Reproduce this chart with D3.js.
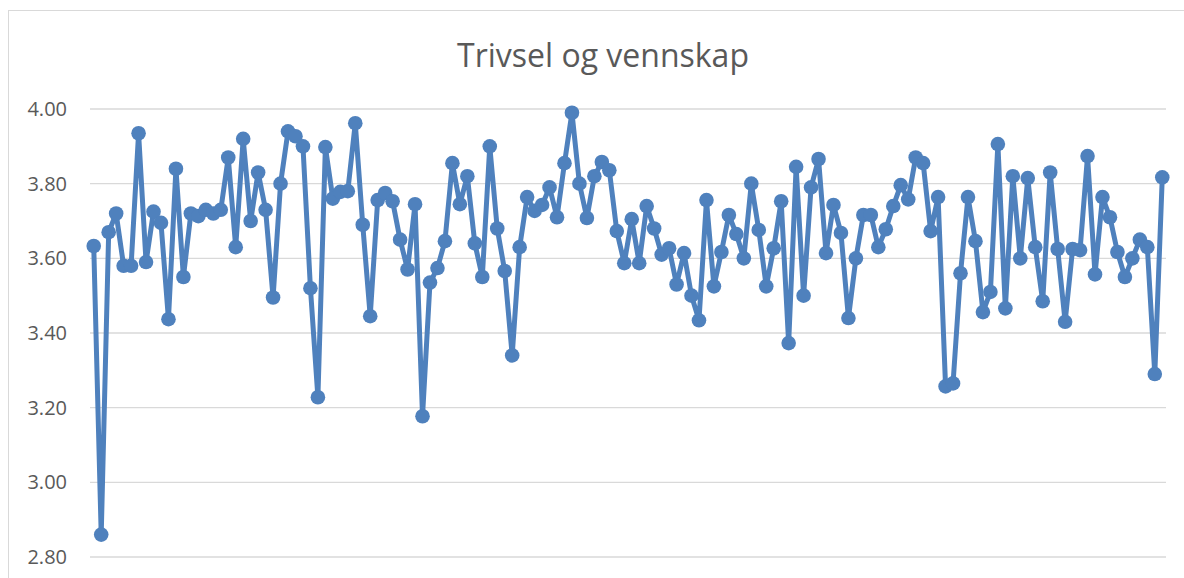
<!DOCTYPE html>
<html>
<head>
<meta charset="utf-8">
<script src="https://cdn.jsdelivr.net/npm/d3@7"></script>
<style>
  body { margin: 0; background: #fff; }
  svg { display: block; }
</style>
</head>
<body>
<div id="chart"></div>
<script>
// chart title and y ticks
var title = "Trivsel og vennskap"
var yTicks = [2.8, 3.0, 3.2, 3.4, 3.6, 3.8, 4.0]

// one value per respondent group
var values = [
    3.633, 2.86, 3.67, 3.72, 3.58, 3.58, 3.935, 3.59, 3.725, 3.695,
    3.437, 3.84, 3.55, 3.72, 3.713, 3.73, 3.72, 3.73, 3.87, 3.63,
    3.92, 3.70, 3.83, 3.73, 3.495, 3.80, 3.94, 3.927, 3.90, 3.52,
    3.228, 3.898, 3.76, 3.778, 3.78, 3.962, 3.69, 3.445, 3.756, 3.775,
    3.753, 3.65, 3.57, 3.745, 3.177, 3.535, 3.574, 3.646, 3.855, 3.745,
    3.82, 3.64, 3.55, 3.90, 3.68, 3.566, 3.34, 3.63, 3.764, 3.727,
    3.743, 3.79, 3.71, 3.855, 3.99, 3.80, 3.708, 3.82, 3.858, 3.836,
    3.673, 3.587, 3.705, 3.587, 3.74, 3.68, 3.61, 3.627, 3.53, 3.614,
    3.50, 3.434, 3.756, 3.525, 3.617, 3.716, 3.665, 3.60, 3.80, 3.676,
    3.525, 3.627, 3.753, 3.373, 3.845, 3.50, 3.79, 3.866, 3.614, 3.743,
    3.668, 3.44, 3.60, 3.716, 3.716, 3.63, 3.678, 3.74, 3.796, 3.758,
    3.87, 3.855, 3.673, 3.764, 3.257, 3.265, 3.56, 3.764, 3.646, 3.456,
    3.51, 3.906, 3.466, 3.82, 3.60, 3.815, 3.63, 3.485, 3.83, 3.625,
    3.43, 3.625, 3.622, 3.874, 3.557, 3.764, 3.71, 3.617, 3.55, 3.60,
    3.65, 3.63, 3.29, 3.817
]
var categories = values.map(function (d, i) { return i + 1 })

var W = 1184, H = 578
var plot = {left: 90, right: 1166, top: 109, bottom: 557}

var svg = d3.select("#chart").append("svg")
    .attr("width", W)
    .attr("height", H)

// chart frame
svg.append("rect")
    .attr("x", 8.5).attr("y", 10.5)
    .attr("width", W).attr("height", H)
    .attr("fill", "#fff")
    .attr("stroke", "#d9d9d9")

var x = d3.scaleBand()
    .domain(categories)
    .range([plot.left, plot.right])

var y = d3.scaleLinear()
    .domain([2.8, 4.0])
    .range([plot.bottom, plot.top])

// gridlines
svg.append("g")
    .selectAll("line")
    .data(yTicks)
    .enter().append("line")
    .attr("x1", plot.left)
    .attr("x2", plot.right)
    .attr("y1", function (d) { return y(d) })
    .attr("y2", function (d) { return y(d) })
    .attr("stroke", "#d9d9d9")
    .attr("stroke-width", 1.3)

// y axis labels
var yAxis = svg.append("g")
    .attr("transform", "translate(" + (plot.left - 23) + ",0)")
    .call(d3.axisLeft(y).tickValues(yTicks).tickFormat(d3.format(".2f")).tickSize(0).tickPadding(0))
yAxis.select(".domain").remove()
yAxis.selectAll("text")
    .attr("fill", "#595959")
    .style("font-family", "'Open Sans', sans-serif")
    .style("font-size", "20px")

// title
svg.append("text")
    .attr("x", 603)
    .attr("y", 67)
    .attr("text-anchor", "middle")
    .attr("fill", "#595959")
    .style("font-family", "'Open Sans', sans-serif")
    .style("font-size", "32px")
    .text(title)

// line and markers
var cx = function (d, i) { return x(categories[i]) + x.bandwidth() / 2 }
var line = d3.line()
    .x(cx)
    .y(function (d) { return y(d) })

svg.append("path")
    .datum(values)
    .attr("fill", "none")
    .attr("stroke", "#4f81bd")
    .attr("stroke-width", 5)
    .attr("stroke-linejoin", "round")
    .attr("d", line)

svg.append("g")
    .selectAll("circle")
    .data(values)
    .enter().append("circle")
    .attr("cx", cx)
    .attr("cy", function (d) { return y(d) })
    .attr("r", 7.3)
    .attr("fill", "#4f81bd")
</script>
</body>
</html>
